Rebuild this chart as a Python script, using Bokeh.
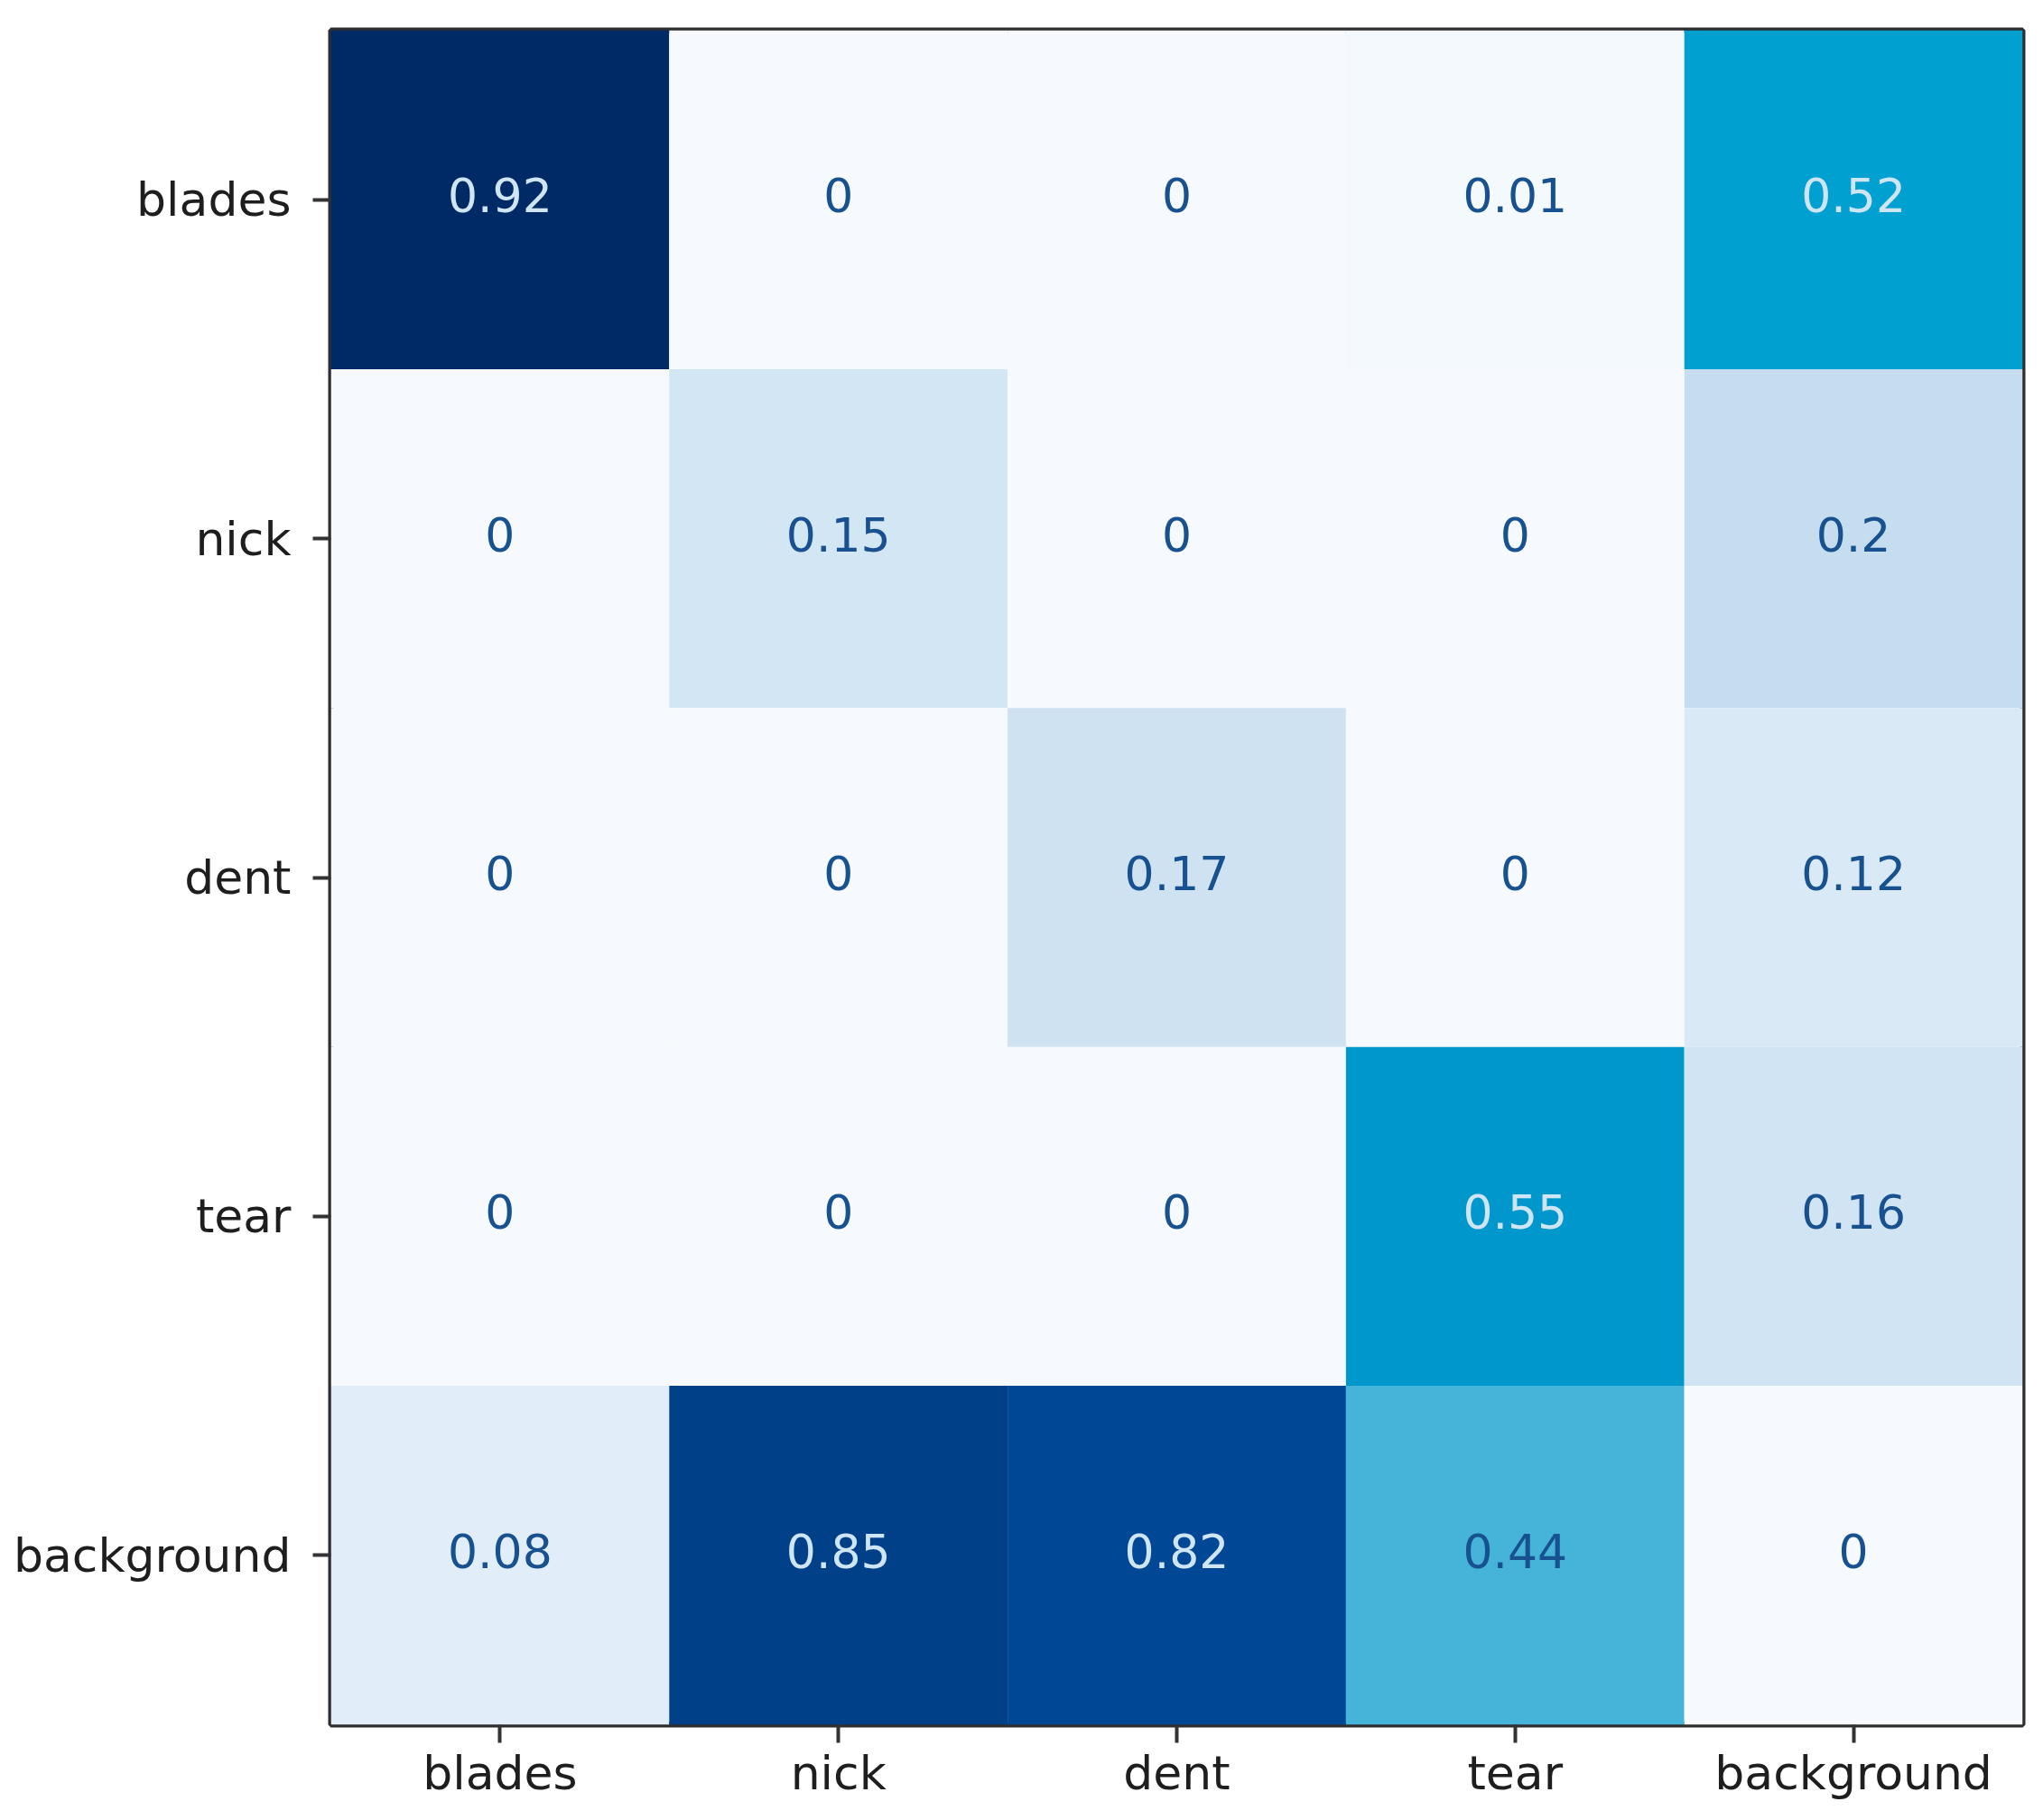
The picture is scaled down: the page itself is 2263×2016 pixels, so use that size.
import numpy as np
from bokeh.plotting import figure
from bokeh.models import ColumnDataSource, LinearColorMapper, FactorRange
from bokeh.transform import transform
from bokeh.core.properties import value
from bokeh.embed import file_html
from bokeh.resources import INLINE

# ---- data ----
classes = ["blades", "nick", "dent", "tear", "background"]
row_blades = [0.92, 0.00, 0.00, 0.01, 0.52]
row_nick = [0.00, 0.15, 0.00, 0.00, 0.20]
row_dent = [0.00, 0.00, 0.17, 0.00, 0.12]
row_tear = [0.00, 0.00, 0.00, 0.55, 0.16]
row_background = [0.08, 0.85, 0.82, 0.44, 0.00]
rows = [row_blades, row_nick, row_dent, row_tear, row_background]

# ---- colour palette (Blues-like, cyan mid tones) ----
stop_pos = [0.0, 0.087, 0.163, 0.217, 0.478, 0.565, 0.598, 0.891, 0.924, 1.0]
stop_col = ["#f6fafe", "#e1eef9", "#d3e6f4", "#c6ddf0", "#46b4d8",
            "#00a0d0", "#0099cc", "#004896", "#00408a", "#002a66"]


def hex2rgb(h):
    return [int(h[i:i + 2], 16) for i in (1, 3, 5)]


rgb = np.array([hex2rgb(c) for c in stop_col], dtype=float)
t = np.linspace(0, 1, 256)
palette = []
for tv in t:
    r = np.interp(tv, stop_pos, rgb[:, 0])
    g = np.interp(tv, stop_pos, rgb[:, 1])
    b = np.interp(tv, stop_pos, rgb[:, 2])
    palette.append("#%02x%02x%02x" % (int(round(r)), int(round(g)), int(round(b))))

xs, ys, vals, labels, tcols = [], [], [], [], []
vmax = max(max(r) for r in rows)
for true_lbl, row in zip(classes, rows):
    for pred_lbl, v in zip(classes, row):
        xs.append(pred_lbl)
        ys.append(true_lbl)
        vals.append(v)
        labels.append(f"{v:g}")
        tcols.append("#cfe5f4" if v > vmax / 2 else "#17518f")

src = ColumnDataSource(dict(x=xs, y=ys, v=vals, label=labels, tc=tcols))
mapper = LinearColorMapper(palette=palette, low=0, high=vmax)

W, H = 2250, 2000
p = figure(width=W, height=H, output_backend="svg", toolbar_location=None,
           x_range=FactorRange(*classes), y_range=FactorRange(*reversed(classes)),
           min_border_left=366, min_border_top=33, min_border_right=10,
           min_border_bottom=90)
p.rect(x="x", y="y", width=1, height=1, source=src,
       fill_color=transform("v", mapper), line_color=None)
p.text(x="x", y="y", text="label", source=src, text_color="tc",
       text_align="center", text_baseline="middle", y_offset=-5,
       text_font=value("DejaVu Sans"), text_font_size="52px")

p.xgrid.visible = False
p.ygrid.visible = False
p.outline_line_color = "#2e2e2e"
p.outline_line_width = 6
p.background_fill_color = "white"
p.border_fill_color = "white"

for ax in (p.xaxis, p.yaxis):
    ax.axis_line_color = None
    ax.major_tick_out = 20
    ax.major_tick_in = 0
    ax.major_tick_line_width = 4
    ax.major_tick_line_color = "#333333"
    ax.minor_tick_line_color = None
    ax.major_label_text_font = "DejaVu Sans"
    ax.major_label_text_font_size = "52px"
    ax.major_label_text_color = "#1e1e1e"
p.xaxis.major_label_standoff = 3
p.yaxis.major_label_standoff = 24

open("out.html", "w").write(file_html(p, INLINE))
